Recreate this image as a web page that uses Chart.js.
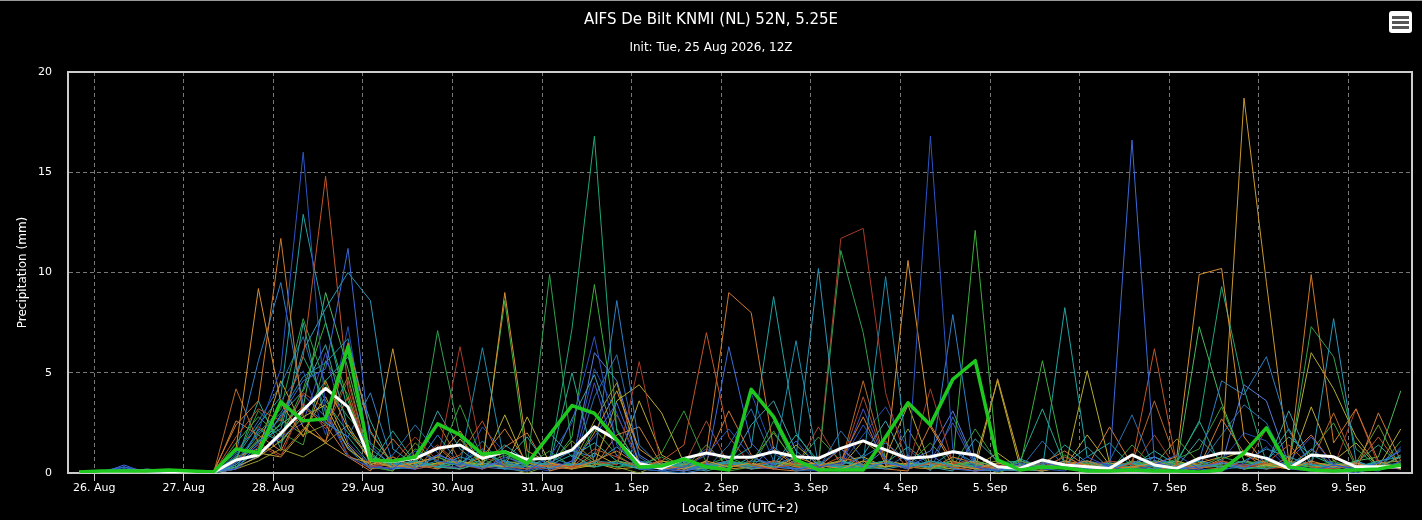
<!DOCTYPE html>
<html>
<head>
<meta charset="utf-8">
<title>AIFS De Bilt KNMI</title>
<script src="https://cdn.jsdelivr.net/npm/chart.js@4.4.1/dist/chart.umd.min.js"></script>
<style>
  html, body { margin: 0; padding: 0; background: #000; }
  #wrap { position: relative; width: 1422px; height: 520px; }
  #topline { position: absolute; left: 0; top: 0; width: 1422px; height: 1px; background: #999; }
  #menu { position: absolute; left: 1389px; top: 11px; width: 23px; height: 22px; background: #fff; border-radius: 3px; }
  #menu span { position: absolute; left: 3px; width: 17px; height: 3px; background: #555; }
</style>
</head>
<body>
<div id="wrap">
  <canvas id="ensChart"></canvas>
  <div id="topline"></div>
  <div id="menu"><span style="top:5px"></span><span style="top:10px"></span><span style="top:15px"></span></div>
</div>
<script>
// forecast steps, hours after 26 Aug 00:00 local time (6-hourly)
const stepHours = [-4, 2, 8, 14, 20, 26, 32, 38, 44, 50, 56, 62, 68, 74, 80, 86, 92, 98, 104, 110,
  116, 122, 128, 134, 140, 146, 152, 158, 164, 170, 176, 182, 188, 194, 200, 206, 212, 218, 224, 230,
  236, 242, 248, 254, 260, 266, 272, 278, 284, 290, 296, 302, 308, 314, 320, 326, 332, 338, 344, 350];

// day ticks (midnight local) and their labels
const dayTicks = [0, 24, 48, 72, 96, 120, 144, 168, 192, 216, 240, 264, 288, 312, 336];
const dayLabels = ["26. Aug", "27. Aug", "28. Aug", "29. Aug", "30. Aug", "31. Aug", "1. Sep",
  "2. Sep", "3. Sep", "4. Sep", "5. Sep", "6. Sep", "7. Sep", "8. Sep", "9. Sep"];

// control run (thick green) and ensemble mean (thick white), mm per 6h
const control = [0.05,
  0.1, 0.1, 0.1, 0.15,
  0.1, 0.05, 1.2, 1.0,
  3.55, 2.6, 2.7, 6.3,
  0.65, 0.6, 0.8, 2.45,
  1.9, 0.93, 1.06, 0.48,
  1.9, 3.36, 2.98, 1.65,
  0.3, 0.35, 0.7, 0.3,
  0.15, 4.17, 2.8, 0.65,
  0.15, 0.15, 0.15, 1.8,
  3.5, 2.4, 4.67, 5.6,
  0.65, 0.15, 0.3, 0.25,
  0.1, 0.1, 0.15, 0.1,
  0.1, 0.05, 0.15, 1.0,
  2.25, 0.3, 0.15, 0.1,
  0.15, 0.2, 0.4];

const ensMean = [0.02,
  0.05, 0.08, 0.1, 0.08,
  0.05, 0.03, 0.65, 0.9,
  1.98, 3.14, 4.22, 3.3,
  0.65, 0.57, 0.73, 1.23,
  1.4, 0.73, 1.06, 0.68,
  0.73, 1.15, 2.3, 1.65,
  0.48, 0.23, 0.73, 1.0,
  0.78, 0.78, 1.06, 0.81,
  0.73, 1.23, 1.6, 1.15,
  0.73, 0.81, 1.06, 0.9,
  0.31, 0.23, 0.65, 0.4,
  0.31, 0.23, 0.9, 0.4,
  0.23, 0.73, 1.0, 1.0,
  0.73, 0.23, 0.9, 0.81,
  0.31, 0.31, 0.31];

// ensemble members
const member01 = [0, 0, 0.3, 0.1, 0, 0, 0, 0.5, 2.1, 5.2, 16.0, 3.1, 0.8, 0.3, 0.2, 1.1, 0.6,
  0.4, 1.2, 0.3, 0.1, 0.8, 2.5, 6.8, 1.4, 0.2, 0.1, 0.3, 0.9, 2.2, 0.8, 0.4, 1.6,
  0.3, 0.5, 2.4, 0.7, 0.2, 16.8, 1.2, 0.3, 0.1, 0.5, 0.2, 0.1, 0.8, 0.3, 0.1, 0.4,
  0.9, 0.2, 0.1, 0.5, 1.3, 0.2, 0.1, 0.4, 0.2, 0.1, 0.6];
const member02 = [0, 0, 0.4, 0, 0, 0, 0.1, 0.2, 1.5, 2.8, 4.6, 5.2, 11.2, 1.4, 0.3, 0.2, 0.9,
  0.5, 0.2, 0.8, 0.4, 0.2, 0.6, 1.8, 3.5, 0.6, 0.2, 0.1, 0.4, 6.3, 1.5, 0.3, 0.2,
  0.4, 1.2, 0.3, 0.5, 0.3, 0.9, 0.2, 0.1, 0.2, 0.3, 0.6, 0.2, 0.1, 0.4, 16.6, 0.6,
  0.2, 0.3, 0.5, 0.2, 0.8, 0.3, 1.2, 0.4, 0.2, 0.5, 1.1];
const member03 = [0, 0, 0, 0.1, 0, 0, 0, 1.8, 3.2, 2.6, 5.8, 14.8, 4.2, 0.3, 0.8, 0.2, 0.4,
  0.9, 2.6, 0.3, 0.2, 0.4, 0.3, 1.2, 0.8, 0.3, 0.6, 1.4, 7.0, 1.8, 0.4, 0.2, 0.5,
  0.3, 0.8, 0.4, 1.6, 0.2, 0.5, 0.3, 0.1, 0.4, 0.2, 0.3, 0.8, 0.3, 0.1, 0.5, 6.2,
  0.4, 0.2, 0.6, 0.3, 0.5, 1.4, 0.3, 0.2, 0.4, 1.8, 0.3];
const member04 = [0, 0, 0, 0, 0.1, 0, 0.1, 2.4, 3.6, 11.7, 2.8, 1.5, 6.5, 2.1, 0.4, 0.2, 1.3,
  0.3, 0.8, 2.2, 0.5, 0.3, 0.2, 0.6, 1.1, 0.4, 0.2, 0.3, 1.0, 9.0, 8.0, 1.2, 0.3,
  0.2, 0.6, 2.8, 0.4, 0.3, 0.2, 0.8, 0.5, 0.2, 0.3, 0.1, 0.4, 0.6, 0.2, 0.3, 0.1,
  0.4, 0.3, 0.2, 0.9, 0.5, 0.3, 9.9, 1.5, 3.2, 0.6, 0.2];
const member05 = [0.1, 0, 0, 0, 0, 0, 0, 1.2, 9.2, 3.5, 1.8, 4.6, 2.2, 0.6, 0.3, 0.5, 0.8,
  2.1, 0.4, 9.0, 1.1, 0.5, 0.3, 2.0, 4.1, 1.2, 0.4, 0.2, 0.6, 0.3, 0.5, 0.2, 0.8,
  0.4, 0.2, 0.6, 0.3, 10.6, 2.3, 0.4, 0.2, 0.5, 0.3, 0.2, 0.6, 0.4, 0.2, 0.3, 0.5,
  0.8, 9.9, 10.2, 1.8, 0.4, 0.2, 0.6, 0.3, 0.5, 0.2, 0.3];
const member06 = [0, 0, 0.2, 0, 0, 0.1, 0, 0.8, 2.4, 3.8, 12.9, 7.5, 3.1, 1.2, 0.4, 0.6, 0.3,
  0.2, 0.5, 1.4, 0.6, 0.4, 0.9, 0.3, 0.5, 0.2, 0.3, 0.4, 0.2, 0.6, 1.3, 8.8, 2.0,
  0.4, 0.3, 0.2, 0.5, 0.3, 0.6, 0.4, 0.2, 0.1, 0.3, 0.2, 8.25, 0.8, 1.5, 0.3, 0.2,
  0.4, 0.6, 0.2, 0.3, 0.2, 0.5, 0.4, 0.3, 0.2, 0.6, 0.8];
const member07 = [0, 0, 0, 0.1, 0, 0, 0, 0.4, 1.6, 2.2, 6.1, 8.2, 10.0, 8.6, 1.2, 0.4, 0.3,
  0.8, 0.5, 0.2, 0.6, 0.3, 0.4, 0.5, 1.3, 0.4, 0.2, 0.6, 0.3, 0.5, 0.2, 0.4, 0.8,
  10.2, 0.6, 0.3, 0.2, 0.4, 0.3, 1.1, 0.5, 0.2, 0.1, 0.4, 0.3, 0.6, 0.2, 0.5, 0.3,
  0.2, 0.4, 0.3, 0.6, 1.2, 0.8, 0.4, 7.7, 0.6, 0.2, 0.3];
const member08 = [0, 0.1, 0.3, 0, 0, 0, 0.1, 1.0, 5.6, 9.5, 3.4, 2.5, 1.8, 4.0, 0.5, 0.3, 1.9,
  0.4, 0.3, 0.6, 0.2, 0.5, 1.1, 0.8, 8.6, 1.4, 0.3, 0.2, 0.4, 0.6, 0.3, 0.5, 0.2,
  0.3, 0.4, 0.8, 1.5, 0.6, 0.3, 7.9, 0.5, 0.2, 0.4, 0.3, 0.6, 0.2, 0.3, 0.5, 0.8,
  0.3, 0.6, 4.6, 3.9, 5.8, 2.1, 0.4, 0.3, 0.5, 0.2, 0.4];
const member09 = [0, 0, 0, 0, 0, 0, 0.1, 0.6, 2.0, 3.2, 7.7, 4.4, 2.8, 1.5, 0.6, 0.3, 7.1,
  1.8, 0.4, 0.9, 0.3, 9.9, 1.2, 0.5, 0.3, 0.4, 0.8, 0.2, 0.3, 0.5, 0.3, 2.6, 0.4,
  0.3, 11.1, 7.0, 0.6, 0.3, 0.2, 0.4, 0.5, 0.2, 0.6, 0.3, 0.4, 0.5, 0.2, 0.3, 0.6,
  0.4, 0.3, 0.8, 0.5, 0.6, 0.3, 7.3, 5.8, 1.2, 0.3, 0.5];
const member10 = [0, 0, 0, 0.1, 0, 0, 0, 0.3, 1.2, 2.5, 5.8, 3.6, 2.0, 0.8, 0.4, 0.6, 0.3,
  0.5, 1.2, 0.4, 0.2, 0.6, 7.2, 16.8, 2.1, 0.4, 0.2, 0.5, 0.3, 0.6, 0.4, 0.3, 0.2,
  0.5, 0.3, 0.4, 0.6, 0.2, 0.5, 0.3, 0.4, 0.3, 0.2, 0.6, 0.3, 0.2, 0.4, 0.3, 0.5,
  0.6, 2.5, 9.3, 4.2, 0.5, 0.3, 0.2, 0.4, 0.3, 0.6, 0.2];
const member11 = [0, 0, 0, 0, 0, 0, 0, 1.5, 2.8, 1.8, 4.2, 7.5, 3.6, 0.6, 0.3, 0.5, 0.8,
  0.4, 0.6, 8.6, 0.5, 0.3, 1.8, 9.4, 2.2, 0.3, 0.5, 0.2, 0.4, 0.8, 0.3, 0.5, 0.4,
  0.2, 0.6, 0.3, 0.5, 0.4, 0.3, 0.6, 12.1, 0.5, 0.3, 5.6, 0.4, 0.4, 0.2, 0.6, 0.3,
  0.5, 0.3, 0.4, 0.2, 0.3, 0.5, 0.3, 0.6, 0.2, 0.4, 0.3];
const member12 = [0, 0, 0, 0, 0, 0, 0, 0.6, 1.4, 0.8, 3.5, 2.2, 4.6, 0.3, 0.5, 1.8, 0.6,
  6.3, 0.8, 0.4, 0.2, 0.5, 0.3, 0.6, 0.4, 5.55, 0.3, 0.2, 0.5, 0.4, 0.3, 0.6, 0.2,
  0.5, 11.7, 12.2, 4.0, 0.3, 4.2, 0.5, 0.2, 0.4, 0.3, 0.2, 0.5, 0.3, 0.6, 0.4, 0.2,
  0.5, 0.3, 0.6, 0.4, 0.2, 0.3, 0.5, 0.3, 3.2, 0.4, 0.2];
const member13 = [0, 0, 0, 0, 0, 0.1, 0, 0.8, 1.2, 4.6, 2.3, 1.5, 0.8, 0.5, 6.2, 0.4, 0.3,
  0.2, 0.5, 0.3, 0.6, 0.4, 0.3, 0.5, 0.2, 0.3, 0.6, 0.4, 0.5, 0.2, 0.3, 0.6, 0.4,
  0.5, 0.3, 0.2, 0.6, 0.4, 0.3, 0.5, 0.2, 4.7, 0.6, 0.3, 0.4, 0.5, 0.2, 0.3, 0.6,
  0.4, 0.5, 0.8, 18.7, 9.5, 0.6, 0.3, 0.4, 0.5, 0.2, 0.3];
const member14 = [0, 0, 0, 0, 0, 0, 0, 0.3, 0.8, 1.6, 2.8, 3.4, 1.2, 0.4, 0.8, 0.3, 0.5,
  0.6, 0.4, 2.9, 0.3, 0.5, 0.2, 0.4, 3.6, 4.4, 3.0, 0.5, 0.3, 0.6, 0.4, 0.3, 1.4,
  0.4, 0.6, 0.8, 0.3, 0.5, 0.4, 0.3, 0.6, 4.6, 0.3, 0.4, 0.2, 5.1, 0.5, 0.3, 0.4,
  0.6, 0.3, 0.5, 0.2, 0.4, 0.5, 6.0, 4.2, 1.8, 0.3, 2.2];
const member15 = [0, 0, 0.1, 0, 0, 0, 0, 0.5, 1.9, 3.0, 4.8, 5.5, 6.7, 2.0, 0.5, 0.3, 0.6,
  0.4, 6.25, 0.5, 0.3, 0.8, 0.4, 0.6, 0.5, 0.3, 0.2, 0.5, 0.4, 0.3, 0.6, 0.5, 6.6,
  0.4, 0.3, 0.5, 9.8, 0.6, 0.4, 0.3, 0.5, 0.2, 0.6, 0.3, 0.4, 0.5, 0.3, 0.2, 0.6,
  0.4, 0.3, 0.5, 0.3, 0.6, 0.4, 0.3, 0.5, 0.3, 0.5, 0.4];
const member16 = [0, 0, 0, 0, 0, 0, 0, 0.4, 1.6, 2.4, 3.3, 9.0, 5.2, 0.9, 0.3, 0.5, 0.4,
  0.6, 0.3, 0.4, 0.5, 0.2, 0.5, 0.3, 0.6, 0.4, 0.3, 0.6, 0.2, 0.5, 0.4, 0.3, 0.5,
  0.3, 0.6, 0.4, 0.3, 0.5, 0.2, 0.4, 0.6, 0.3, 0.5, 0.2, 0.4, 0.6, 0.3, 0.5, 0.2,
  0.4, 7.3, 3.5, 0.6, 0.3, 0.5, 0.4, 0.3, 0.6, 0.8, 4.1];
const member17 = [0, 0, 0.2, 0, 0, 0, 0, 0.2, 0.9, 1.8, 2.5, 6.0, 1.5, 0.4, 0.2, 0.6, 0.3,
  0.3, 0.5, 0.4, 0.2, 0.6, 0.3, 4.5, 0.8, 0.3, 0.5, 0.2, 0.4, 0.5, 0.3, 0.2, 0.6,
  0.4, 0.3, 3.2, 0.5, 0.2, 0.6, 2.5, 0.3, 0.4, 0.2, 0.5, 0.3, 0.6, 0.4, 0.3, 0.5,
  0.2, 0.3, 0.5, 0.4, 0.3, 0.6, 1.8, 0.4, 0.5, 0.3, 0.2];
const member18 = [0, 0, 0, 0, 0, 0, 0, 0.2, 0.6, 1.2, 0.8, 1.5, 2.4, 0.6, 0.4, 0.3, 0.5,
  0.4, 0.3, 0.5, 0.6, 0.3, 0.4, 2.6, 4.5, 0.3, 0.6, 0.4, 0.5, 0.3, 0.4, 0.6, 0.3,
  0.5, 0.4, 0.3, 0.6, 0.4, 0.5, 0.3, 0.4, 0.6, 0.3, 0.5, 0.4, 0.3, 0.6, 0.4, 0.3,
  0.5, 0.4, 0.3, 0.6, 0.4, 0.3, 0.5, 0.4, 0.3, 0.5, 0.6];
const member19 = [0, 0, 0, 0, 0, 0, 0, 4.2, 1.5, 0.9, 2.2, 1.6, 3.8, 0.5, 0.3, 0.4, 2.5,
  0.6, 0.3, 0.4, 0.2, 0.5, 0.3, 0.4, 0.6, 0.3, 0.5, 0.2, 0.4, 0.6, 0.3, 0.5, 0.4,
  0.3, 0.4, 4.6, 0.5, 0.4, 0.3, 0.5, 0.6, 0.3, 0.4, 0.2, 0.5, 0.4, 0.3, 0.5, 3.6,
  0.5, 0.4, 0.3, 0.6, 0.4, 0.3, 0.5, 3.0, 0.4, 0.3, 0.5];
const member20 = [0, 0, 0, 0.1, 0, 0, 0.1, 0.6, 3.6, 1.2, 7.5, 2.5, 1.8, 0.4, 2.1, 0.5, 0.3,
  0.5, 0.4, 0.3, 0.6, 0.4, 5.0, 0.5, 0.3, 0.6, 0.4, 0.3, 0.5, 0.4, 0.3, 0.6, 0.4,
  0.5, 0.3, 0.4, 0.6, 0.3, 0.5, 0.4, 0.3, 0.5, 0.6, 3.2, 0.4, 0.3, 0.5, 0.4, 0.6,
  0.5, 2.6, 0.3, 0.4, 0.6, 2.2, 0.4, 0.3, 0.5, 1.4, 0.4];
const member21 = [0, 0, 0.1, 0, 0, 0, 0, 0.9, 2.6, 4.4, 6.8, 3.0, 1.2, 0.2, 0.9, 2.4, 1.0,
  0.3, 1.6, 0.2, 0.1, 0.4, 0.2, 3.8, 5.9, 0.8, 0.1, 0, 0.2, 1.4, 3.2, 0.6, 0.1,
  0.2, 2.1, 0.7, 0.3, 0.9, 0.1, 2.8, 0.4, 0.1, 0.2, 1.6, 0.3, 0.1, 0.6, 2.9, 0.2,
  0.1, 0.4, 1.9, 3.4, 2.5, 0.3, 0.1, 0.2, 0, 0.3, 1.2];
const member22 = [0, 0, 0, 0.2, 0.1, 0, 0, 0.3, 1.1, 2.9, 4.1, 6.4, 2.2, 1.0, 0.2, 0.5, 3.1,
  1.2, 0.3, 0.6, 1.8, 0.2, 2.7, 4.9, 1.6, 0.2, 0.6, 0.3, 0.1, 0.4, 2.4, 3.6, 1.1,
  0.2, 0.1, 0.9, 2.6, 0.4, 0.3, 0.1, 1.7, 0.6, 0.2, 0.1, 0.4, 1.3, 0.2, 0.1, 0.8,
  0.3, 1.7, 0.6, 0.2, 0.4, 3.1, 0.5, 0.1, 0.6, 0.2, 0.9];
const member23 = [0, 0, 0, 0, 0, 0, 0, 2.6, 1.9, 1.1, 3.3, 2.4, 0.8, 0.1, 1.7, 0.4, 0.2,
  0.6, 0.2, 1.3, 2.0, 0.1, 0.4, 0.3, 1.9, 2.3, 0.4, 0.1, 0.6, 3.1, 0.9, 0.2, 0.1,
  0.3, 1.2, 0.4, 0.2, 0.1, 2.4, 0.6, 0.3, 0.2, 0.1, 0.5, 1.1, 0.3, 2.3, 0.4, 0.2,
  0.1, 0.3, 2.7, 1.0, 0.2, 0.8, 1.9, 0.4, 0.1, 3.0, 0.6];
const member24 = [0, 0, 0, 0, 0, 0, 0.1, 0.7, 3.1, 2.0, 1.4, 5.6, 3.9, 0.3, 0.1, 1.2, 0.6,
  3.4, 0.7, 0.2, 0.4, 1.1, 0.3, 2.2, 0.9, 0.2, 1.0, 3.1, 0.5, 0.1, 0.3, 2.1, 0.4,
  1.8, 0.6, 0.2, 0.3, 0.4, 1.5, 0.3, 2.2, 0.5, 0.2, 0.1, 0.9, 0.2, 0.1, 1.4, 0.3,
  0.7, 1.2, 3.3, 0.6, 0.2, 0.4, 1.1, 2.5, 0.3, 0.2, 1.6];
const member25 = [0, 0, 0.2, 0.1, 0, 0, 0, 0.4, 1.3, 3.6, 5.1, 1.9, 7.3, 0.6, 0.3, 0.2, 0.4,
  0.2, 2.3, 1.0, 0.3, 0.1, 0.6, 5.2, 3.0, 0.3, 0.2, 0.5, 1.2, 0.6, 4.0, 1.0, 0.2,
  0.1, 0.4, 1.9, 3.3, 1.2, 0.2, 0.8, 0.3, 0.1, 0.3, 0.2, 0.6, 0.2, 0.4, 0.9, 0.3,
  0.1, 0.2, 0.6, 2.0, 1.6, 0.3, 0.2, 0.5, 0.1, 0.2, 1.3];
const member26 = [0, 0, 0, 0, 0, 0, 0, 0.6, 1.0, 0.8, 2.1, 3.8, 1.4, 0.2, 0.5, 0.9, 0.2,
  1.7, 0.4, 0.3, 2.8, 0.5, 0.2, 1.0, 0.4, 3.6, 0.9, 0.3, 0.2, 0.5, 0.2, 0.3, 0.6,
  0.2, 0.3, 1.6, 0.8, 3.4, 0.4, 0.2, 0.3, 1.0, 0.2, 0.1, 0.3, 1.9, 0.4, 0.2, 0.1,
  0.3, 0.2, 0.7, 1.1, 0.4, 0.2, 3.3, 0.6, 1.5, 0.3, 0.8];
const member27 = [0, 0, 0, 0, 0, 0, 0, 1.1, 2.3, 1.6, 4.0, 3.2, 0.9, 0.2, 0.3, 0.6, 1.4,
  0.4, 0.2, 0.5, 0.3, 0.2, 0.3, 0.8, 2.9, 0.6, 0.2, 0.4, 2.6, 0.4, 0.2, 0.6, 0.3,
  2.3, 0.4, 3.8, 0.5, 0.2, 0.6, 0.3, 0.1, 0.2, 0.4, 0.6, 0.2, 0.4, 0.3, 0.2, 1.9,
  0.2, 0.8, 0.4, 0.3, 2.2, 0.5, 0.3, 0.2, 0.1, 0.4, 0.2];
const member28 = [0, 0, 0.1, 0, 0, 0, 0, 0.2, 2.2, 1.5, 3.0, 4.6, 5.8, 2.6, 0.2, 0.3, 0.8,
  0.3, 0.9, 0.6, 0.4, 2.0, 0.8, 1.5, 0.6, 0.2, 0.1, 0.6, 0.3, 0.2, 0.8, 0.4, 1.9,
  0.6, 0.2, 0.3, 0.5, 1.3, 0.4, 0.6, 0.2, 0.1, 0.7, 0.3, 1.4, 0.5, 0.2, 0.3, 1.1,
  0.4, 0.2, 0.5, 0.3, 0.6, 1.8, 0.9, 0.4, 0.3, 0.5, 0.2];
const member29 = [0, 0, 0.3, 0, 0, 0, 0, 0.3, 0.8, 1.9, 3.9, 2.8, 1.3, 0.3, 0.2, 0.4, 0.9,
  0.5, 0.3, 0.2, 0.6, 0.3, 0.4, 6.0, 4.6, 0.9, 0.2, 0.1, 0.3, 0.5, 0.3, 1.3, 0.4,
  0.2, 0.6, 0.3, 1.2, 0.6, 1.1, 3.1, 0.5, 0.2, 0.3, 0.4, 0.3, 0.1, 0.2, 0.5, 0.8,
  0.3, 0.6, 0.4, 4.4, 3.6, 0.4, 0.2, 0.3, 0.4, 0.2, 0.5];
const member30 = [0, 0, 0, 0, 0, 0, 0, 0.5, 1.7, 2.7, 1.9, 2.4, 4.8, 0.4, 0.1, 1.5, 0.5,
  0.2, 1.1, 0.3, 0.0, 0.4, 1.6, 0.6, 0.3, 0.0, 0.5, 0.2, 1.4, 0.3, 0.6, 2.0, 0.5,
  0.1, 0.2, 0.6, 0.3, 2.2, 0.3, 0.2, 0.6, 0.0, 0.4, 0.2, 0.5, 0.3, 0.1, 0.6, 0.4,
  1.7, 0.5, 0.3, 0.4, 0.6, 0.2, 1.2, 0.3, 0.5, 2.4, 0.2];

const members = [member01, member02, member03, member04, member05, member06, member07, member08,
  member09, member10, member11, member12, member13, member14, member15, member16, member17,
  member18, member19, member20, member21, member22, member23, member24, member25, member26,
  member27, member28, member29, member30];
const memberColors = ["#2d55c5", "#3b6ad8", "#c2552a", "#cf7a2c", "#d89030", "#20a3a3", "#2a98b8",
  "#2f7fc4", "#2f9f4f", "#1fa57a", "#3cae3c", "#a83a2a", "#c99a2e", "#b5ad30", "#1d8fae",
  "#48b860", "#4b4fc0", "#9a9a30", "#b86a2a", "#28a890", "#2a70b0", "#3fa0a8", "#d07a3a",
  "#3a9a3a", "#2550b0", "#b8a838", "#a84830", "#28b0a0", "#5a7ad8", "#7a9a2a"];

const toPoints = arr => arr.map((v, i) => ({ x: stepHours[i], y: v }));

// 畫面上的外框
const framePlugin = {
  id: "frame",
  beforeDatasetsDraw(chart) {
    const { ctx, chartArea: a } = chart;
    ctx.save();
    ctx.strokeStyle = "#cccccc";
    ctx.lineWidth = 2;
    ctx.strokeRect(a.left, a.top, a.right - a.left, a.bottom - a.top);
    ctx.restore();
  }
};

const datasets = [
  { label: "Control", data: toPoints(control), borderColor: "#1ec81e", borderWidth: 3.5 },
  { label: "Mean", data: toPoints(ensMean), borderColor: "#ffffff", borderWidth: 3 }
];
members.forEach((m, i) => {
  datasets.push({ label: "Member " + (i + 1), data: toPoints(m), borderColor: memberColors[i], borderWidth: 1 });
});

Chart.defaults.font.family = "'DejaVu Sans', Verdana, sans-serif";
Chart.defaults.color = "#ffffff";

const ctx = document.getElementById("ensChart").getContext("2d");
new Chart(ctx, {
  type: "line",
  data: { datasets },
  options: {
    responsive: true,
    maintainAspectRatio: false,
    animation: false,
    layout: { padding: { left: 10, right: 10, top: 0, bottom: 0 } },
    elements: {
      point: { radius: 0 },
      line: { tension: 0, borderJoinStyle: "round" }
    },
    plugins: {
      legend: { display: false },
      tooltip: { enabled: false },
      title: {
        display: true,
        text: "AIFS De Bilt KNMI (NL) 52N, 5.25E",
        color: "#ffffff",
        font: { size: 15, weight: "normal" },
        padding: { top: 11, bottom: 12 }
      },
      subtitle: {
        display: true,
        text: "Init: Tue, 25 Aug 2026, 12Z",
        color: "#ffffff",
        font: { size: 12, weight: "normal" },
        padding: { top: 0, bottom: 16.6 }
      }
    },
    scales: {
      x: {
        type: "linear",
        min: -7,
        max: 353,
        afterBuildTicks: s => { s.ticks = dayTicks.map(v => ({ value: v })); },
        afterFit: s => { s.height = 47; },
        ticks: {
          color: "#ffffff",
          font: { size: 11 },
          padding: 1,
          maxRotation: 0,
          autoSkip: false,
          callback: (v, i) => dayLabels[i]
        },
        grid: { color: "#777777", lineWidth: 1, tickLength: 8, tickColor: "#cccccc", tickWidth: 1, tickBorderDash: [] },
        border: { display: true, color: "#cccccc", width: 2, dash: [4, 3] },
        title: {
          display: true,
          text: "Local time (UTC+2)",
          color: "#ffffff",
          font: { size: 12 },
          padding: { top: 0, bottom: 4 }
        }
      },
      y: {
        min: 0,
        max: 20,
        afterFit: s => { s.width = 58; },
        ticks: { stepSize: 5, color: "#ffffff", font: { size: 11 }, padding: 16 },
        grid: { color: "#777777", lineWidth: 1, drawTicks: false },
        border: { display: true, color: "#cccccc", width: 2, dash: [4, 3] },
        title: {
          display: true,
          text: "Precipitation (mm)",
          color: "#ffffff",
          font: { size: 12 },
          padding: { top: 6, bottom: 0 }
        }
      }
    }
  },
  plugins: [framePlugin]
});
</script>
</body>
</html>
